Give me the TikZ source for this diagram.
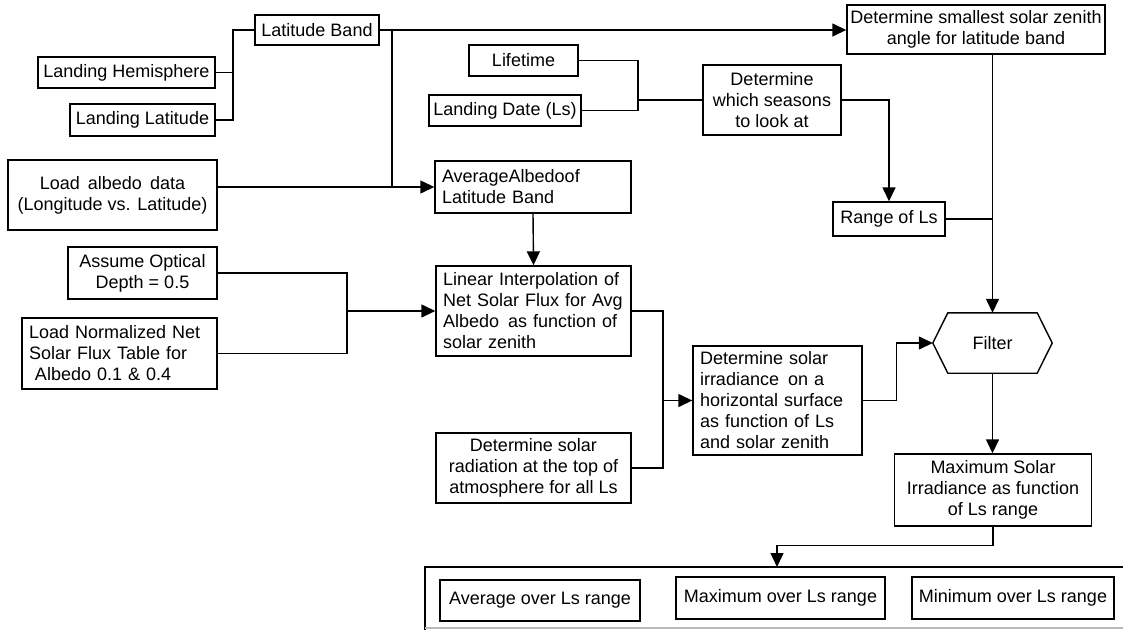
\documentclass[tikz,border=0pt]{standalone}
\usepackage{fontspec}
\setmainfont{Liberation Sans}
\usetikzlibrary{arrows.meta}
\begin{document}
\begin{tikzpicture}[x=1pt,y=-1pt,
  box/.style={draw, line width=1.4pt, inner sep=3pt, align=center,
    font=\fontsize{18}{21}\selectfont},
  lbox/.style={box, align=left, inner xsep=7pt, text width=#1},
  link/.style={line width=1.4pt},
  flow/.style={link, -{Triangle[length=14pt,width=13pt]}}]
\useasboundingbox (0,0) rectangle (1123,630);

% inputs: landing site
\node[box, minimum width=124pt, minimum height=30pt] (latband) at (317,30) {Latitude Band};
\node[box, minimum width=177pt, minimum height=31pt] (hemi) at (126.5,72.5) {Landing Hemisphere};
\node[box, minimum width=145pt, minimum height=32pt] (landlat) at (142.5,120) {Landing Latitude};
\node[box, minimum width=209pt, minimum height=70pt] (albedo) at (112.5,195) {Load\, albedo\, data\\(Longitude vs. Latitude)};

% seasons
\node[box, minimum width=258pt, minimum height=49pt] (smallest) at (976,29.5) {Determine smallest solar zenith\\angle for latitude band};
\node[box, minimum width=109pt, minimum height=31pt] (lifetime) at (523.5,60.5) {Lifetime};
\node[box, minimum width=152pt, minimum height=31pt] (landdate) at (505,110.5) {Landing Date (Ls)};
\node[box, minimum width=138pt, minimum height=70pt] (seasons) at (772,100) {Determine\\which seasons\\to look at};
\node[box, minimum width=112pt, minimum height=34pt] (rangels) at (889,219) {Range of Ls};

% flux chain
\node[lbox=182pt, minimum height=52pt] (avgalb) at (533,187) {AverageAlbedoof\\Latitude Band};
\node[lbox=181pt, minimum height=90pt] (linint) at (533.5,311) {Linear Interpolation of\\Net Solar Flux for Avg\\Albedo\, as function of\\solar zenith};
\node[box, minimum width=195pt, minimum height=70pt] (radtop) at (533.5,468) {Determine solar\\radiation at the top of\\atmosphere for all Ls};
\node[box, minimum width=149pt, minimum height=52pt] (assume) at (142.5,273) {Assume Optical\\Depth = 0.5};
\node[lbox=181pt, minimum height=71pt] (loadnorm) at (119.5,353.5) {Load Normalized Net\\Solar Flux Table for\\\ Albedo 0.1 \& 0.4};
\node[lbox=155pt, minimum height=109pt] (irrad) at (777.5,400.5) {Determine solar\\irradiance\, on a\\horizontal surface\\as function of Ls\\and solar zenith};

% filter and result
\node[minimum width=119pt, minimum height=60pt, font=\fontsize{18}{21}\selectfont] (filter) at (992.5,343) {Filter};
\draw[link] (filter.west) -- ([xshift=15pt]filter.north west) -- ([xshift=-15pt]filter.north east)
  -- (filter.east) -- ([xshift=-15pt]filter.south east) -- ([xshift=15pt]filter.south west) -- cycle;
\node[box, minimum width=197pt, minimum height=72pt] (maxsol) at (993,490) {Maximum Solar\\Irradiance as function\\of Ls range};

% statistics panel
\draw[link] (1123,567) -- (425,567) -- (425,630);
\draw[gray!55, line width=1.2pt] (425,628) -- (1123,628);
\coordinate (res) at (777,567);
\node[box, minimum width=200pt, minimum height=41pt] (avgls) at (540,600.5) {Average over Ls range};
\node[box, minimum width=209pt, minimum height=42pt] (maxls) at (780.5,598) {Maximum over Ls range};
\node[box, minimum width=202pt, minimum height=42pt] (minls) at (1013,598) {Minimum over Ls range};

% connectors
\coordinate (jh) at (233,72);
\draw[link] (landlat.east) -| (jh) |- (latband.west);
\draw[link] (hemi.east) -- (hemi.east -| jh);
\draw[flow] (latband.east) -- (latband.east -| smallest.west);
\coordinate (jx) at (392,30);
\draw[link] (jx) -- (jx |- avgalb.west);
\draw[flow] ([yshift=8pt]albedo.east) -- (avgalb.west);

\coordinate (jd) at (638,100);
\draw[link] (lifetime.east) -| (jd) |- (landdate.east);
\draw[link] (jd) -- (seasons.west);
\draw[flow] (seasons.east) -| (rangels.north);

\draw[flow] (smallest.south -| filter.north) -- (filter.north);
\draw[link] (rangels.east) -- (rangels.east -| filter.north);

\draw[flow] (avgalb.south) -- (linint.north);
\coordinate (jo) at (347,311);
\draw[link] (assume.east) -| (jo) |- (loadnorm.east);
\draw[flow] (jo) -- (linint.west);
\coordinate (jr) at (663,400.5);
\draw[link] (linint.east) -| (jr) |- (radtop.east);
\draw[flow] (jr) -- (irrad.west);

\draw[flow] (irrad.east) -- ++(34,0) |- (filter.west);
\draw[flow] (filter.south) -- (filter.south |- maxsol.north);
\draw[flow] (maxsol.south) -- ++(0,19) -| (res);
\end{tikzpicture}
\end{document}
